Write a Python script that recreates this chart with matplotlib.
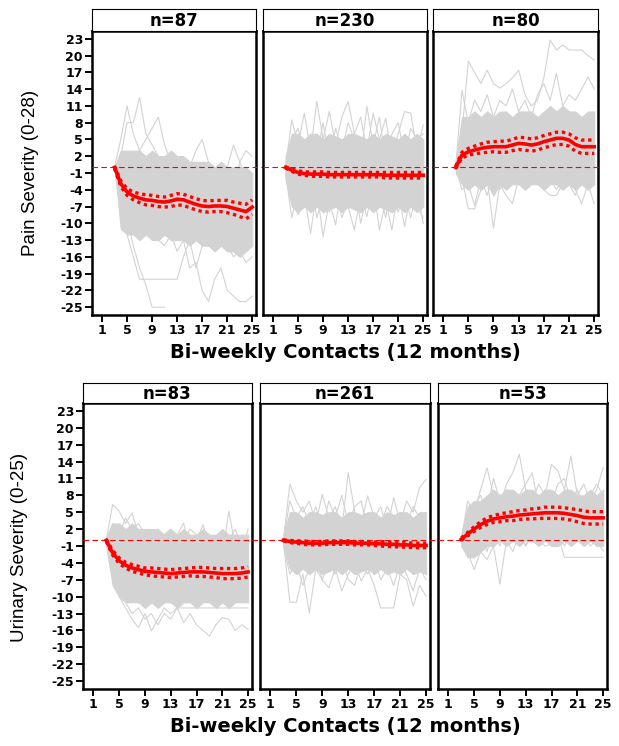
import numpy as np
import matplotlib.pyplot as plt

# bi-weekly contact number (data start at contact 3)
contacts = list(range(3, 26))
xticks = [1, 5, 9, 13, 17, 21, 25]
yticks = list(range(-25, 24, 3))

n_labels = [["n=87", "n=230", "n=80"], ["n=83", "n=261", "n=53"]]
row_ylabels = ["Pain Severity (0-28)", "Urinary Severity (0-25)"]
xlabel = "Bi-weekly Contacts (12 months)"

nan = np.nan

# --- pain, n=87 ---
p1_lo = [0, -11, -12, -12, -13, -12, -13, -13, -12, -13, -13, -13, -14, -13, -14, -14, -15, -14, -15, -15, -16, -15, -14]
p1_hi = [0, 3, 3, 3, 3, 2, 3, 2, 2, 3, 2, 2, 1, 1, 1, 1, 0, 1, 0, 0, 0, 0, -1]
p1_lines = [
    [0, 2, 8, 8, 12.5, 6, 4, 2, 0, -2, -1, 0, -3, -5, -4, -6, -8, -5, -7, -6, -8, -9, -7],
    [0, 5, 11, 6, 3, 0, -2, -1, 1, -3, -5, -2, 0, 3, 5, 1, -1, -2, 0, 4, 1, -2, -3],
    [0, -3, -2, 1, 3, 5, 7, 9, 4, 1, -1, 2, 0, -3, -1, -4, -2, -6, -3, -5, 1, 3, 2],
    [0, -5, -9, -14, -18, -21, -25, -25, -25, nan, nan, nan, nan, nan, nan, nan, nan, nan, nan, nan, nan, nan, nan],
    [0, -6, -12, -16, -20, -20, -20, -20, -20, -20, -20, -16, -13, -18, -14, -12, -15, -13, -14, -16, -15, -17, -16],
    [0, -4, -8, -10, -9, -12, -11, -13, -14, -12, -15, -13, -18, -17, -22, -24, -20, -18, -22, -23, -24, -24, -23],
]
p1_mean = [0, -2.9, -4.4, -5.1, -5.5, -5.8, -5.9, -6.1, -6.2, -6.0, -5.7, -5.8, -6.2, -6.6, -6.9, -7.0, -6.9, -6.9, -7.0, -7.3, -7.6, -7.9, -7.1]
p1_ci = [0.2, 0.5, 0.6, 0.7, 0.8, 0.9, 0.9, 0.9, 0.9, 1.0, 1.0, 1.0, 1.0, 1.0, 1.0, 1.0, 1.0, 1.0, 1.1, 1.1, 1.2, 1.3, 1.3]

# --- pain, n=230 ---
p2_lo = [-2, -7, -8, -7, -8, -7, -8, -7.5, -7, -8, -7, -7.5, -8, -7, -8, -7, -7.5, -8, -7, -8, -7, -8, -7]
p2_hi = [2, 6, 6, 5, 6, 6, 5, 6, 5.5, 5, 6, 6, 5.5, 5, 6, 5, 6, 5.5, 5, 6, 5, 6, 5]
p2_lines = [
    [0, 8.5, 4, 9.7, 3, 11.8, 5, 10, 4, 9, 11.8, 6, 9, 3, 9.7, 5, 8.8, 2, 6, 10, 9.7, 3, 7.6],
    [0, 5, 7, 3, 6, 2, 8, 1, 7, 3, 8, 5, 2, 10.9, 4, 9, 1, 6, 8, 2, 7, 5, 6],
    [0, -6, -8.5, -5, -11.8, -4, -12.4, -6, -10.3, -3, -7, -11.2, -5, -8.8, -3, -11.2, -6, -11.2, -4, -10.6, -5, -7, -9],
    [-1, -9, -4, -7, -3, -9, -5, -8, -4, -9, -6, -3, -10, -5, -7, -4, -9, -3, -8, -5, -9, -4, -10],
]
p2_mean = [0, -0.5, -0.9, -1.1, -1.2, -1.2, -1.2, -1.3, -1.3, -1.3, -1.3, -1.3, -1.3, -1.3, -1.3, -1.3, -1.4, -1.4, -1.4, -1.4, -1.4, -1.4, -1.4]
p2_ci = [0.1, 0.2, 0.3, 0.3, 0.4, 0.4, 0.4, 0.4, 0.4, 0.4, 0.4, 0.4, 0.4, 0.4, 0.4, 0.4, 0.5, 0.5, 0.5, 0.5, 0.5, 0.5, 0.5]

# --- pain, n=80 ---
p3_lo = [-1, -3, -4, -3, -4, -3, -5, -3, -4, -3, -3, -4, -3, -3, -4, -3, -3, -4, -3, -4, -3, -4, -3]
p3_hi = [1, 9, 9, 10, 9, 10, 9, 10, 10, 9, 10, 10, 10, 9, 10, 11, 10, 11, 10, 10, 9, 10, 10]
p3_lines = [
    [0, 6, 19, 17, 15, 17.4, 15, 14.2, 15, 16, 17.4, 13, 11, 12, 16, 22.8, 21, 21.9, 21, 21, 21, 20, 19.2],
    [0, 13.8, 8, 12, 10, 13, 9, 12, 11, 14, 10, 12, 9, 13, 15, 12, 16.8, 11, 13, 12, 14, 16.2, 14],
    [0, -2, -7.4, -7.4, -4, -2, -10.9, -3, -5, -6.5, -2, -1, -3, -2, -4, -5, -5, -3, -1, -4, -6.5, -3, -6.5],
    [0, -4, -3, -6.8, -2, -5, -1, -4, -2, -3, -1, -2, 0, -3, -1, -2, -4, -2, -3, -5, -2, -4, -3],
]
p3_mean = [0, 2.2, 2.8, 3.1, 3.4, 3.6, 3.7, 3.7, 3.7, 4.0, 4.3, 4.2, 4.0, 4.2, 4.6, 4.9, 5.2, 5.2, 4.9, 4.1, 3.7, 3.7, 3.7]
p3_ci = [0.2, 0.5, 0.6, 0.7, 0.8, 0.9, 0.9, 1.0, 1.0, 1.0, 1.1, 1.1, 1.1, 1.1, 1.1, 1.1, 1.1, 1.1, 1.1, 1.2, 1.2, 1.2, 1.2]

# --- urinary, n=83 ---
p4_lo = [-1, -8, -10, -11, -11, -11, -12, -11, -12, -11, -11, -12, -11, -11, -12, -11, -11, -12, -11, -12, -11, -11, -11]
p4_hi = [0.5, 3, 3, 2, 3, 2, 2, 2, 2, 1, 2, 1, 2, 1, 1, 2, 1, 1, 2, 1, 1, 1, 1]
p4_lines = [
    [0, 6.4, 5.2, 3, 4.9, 1, 0, -1, 2, -2, -1, 1, 3.1, -2, 0, 2.8, -1, 0, -3, 5.2, -1, -2, 2],
    [0, 3, 1, 4, 2, 3, 1, -2, 0, 1, 2, -1, 0, 2, 1, -2, 0, -1, 1, 0, 2, -1, 0],
    [0, -6, -10, -12, -14, -15.5, -13, -16.1, -14, -12, -13, -12, -12, -12, -12, -12, -12, -12, -12, -12, -12, -12, -12],
    [0, -4, -8, -11, -13, -12, -14, -13, -15, -13, -14, -12, -14.6, -13, -15, -16, -17, -15, -13.7, -14, -16, -15, -15.8],
]
p4_mean = [0, -2.2, -3.6, -4.4, -4.9, -5.2, -5.5, -5.6, -5.7, -5.8, -5.9, -5.8, -5.7, -5.6, -5.6, -5.6, -5.7, -5.8, -5.9, -5.9, -5.9, -5.8, -5.6]
p4_ci = [0.2, 0.4, 0.5, 0.5, 0.6, 0.6, 0.6, 0.7, 0.7, 0.7, 0.7, 0.7, 0.7, 0.7, 0.8, 0.8, 0.8, 0.8, 0.9, 0.9, 0.9, 0.9, 0.9]

# --- urinary, n=261 ---
p5_lo = [-1, -5, -6, -5, -6, -5, -6, -5.5, -5, -6, -5, -6, -5.5, -5, -6, -5, -6, -5.5, -6, -5, -6, -5.5, -6]
p5_hi = [1, 5, 5, 4, 5, 5, 4.5, 5, 5, 4, 5, 5, 4.5, 5, 5, 4, 5, 4.5, 5, 5, 4, 5, 5]
p5_lines = [
    [0, 10, 7, 5, 7, 3, 8.2, 4, 6, 2, 12, 5, 3, 7.9, 4, 6, 2, 7.6, 3, 7, 5, 9.4, 10.8],
    [0, 7, 4, 6, 3, 6, 2, 7, 4, 8, 3, 6, 7, 2, 5, 3, 6, 4, 5, 3, 6, 4, 5],
    [0, -11, -11, -6, -12.9, -5, -7, -8.4, -5, -9, -6, -4, -7.2, -5, -8, -12, -12, -12, -6, -7, -11.7, -8, -9.9],
    [-1, -6, -4, -8, -5, -3, -7, -4, -6, -3, -7, -8, -4, -6, -3, -7, -5, -8, -4, -6, -9, -5, -7],
]
p5_mean = [0, -0.2, -0.3, -0.4, -0.5, -0.5, -0.5, -0.4, -0.4, -0.4, -0.4, -0.5, -0.5, -0.5, -0.6, -0.6, -0.7, -0.7, -0.8, -0.8, -0.9, -0.9, -0.9]
p5_ci = [0.1, 0.2, 0.2, 0.3, 0.3, 0.3, 0.3, 0.3, 0.3, 0.3, 0.3, 0.3, 0.3, 0.3, 0.3, 0.4, 0.4, 0.4, 0.4, 0.4, 0.4, 0.4, 0.4]

# --- urinary, n=53 ---
p6_lo = [-1, -3, -3, -2, -1, -1, 0, -1, 0, -1, 0, 0, -1, 0, -1, -1, 0, -1, 0, -1, 0, -1, -1]
p6_hi = [1, 6, 7, 7, 8, 9, 8, 9, 9, 8, 9, 9, 8, 9, 9, 8, 9, 9, 8, 8, 9, 8, 9]
p6_lines = [
    [0, 7, 5, 9, 12.9, 8, 6, 10, 12, 15.3, 9, 7, 10, 8, 13.5, 12.3, 9, 15, 8, 10, 7, 9, 12.9],
    [0, 4, 6, 8, 5, 11, 7, 9, 6, 8, 10, 12, 6, 9, 7, 10, 11, 7, 9, 6, 8, 10, 8],
    [0, -2, -5.2, -2, -3.4, -1, -7.8, 0, -2, 1, -1, 2, 0, -1, -0.7, 1, -3, -3, -3, -3, -3, -3, -3],
    [0, -1, -3, 1, -2, 2, -1, 3, 0, 2, -1, 1, 3, 0, 2, 1, -1, 2, 0, 1, -1, 0, -1.9],
]
p6_mean = [0.2, 1.1, 2.0, 2.8, 3.4, 3.8, 4.0, 4.2, 4.3, 4.5, 4.6, 4.7, 4.8, 4.9, 4.9, 4.9, 4.8, 4.6, 4.4, 4.1, 4.0, 4.0, 4.0]
p6_ci = [0.2, 0.3, 0.4, 0.5, 0.6, 0.6, 0.7, 0.7, 0.8, 0.8, 0.8, 0.9, 0.9, 1.0, 1.0, 1.0, 1.0, 1.0, 1.1, 1.1, 1.1, 1.1, 1.1]

panels = [
    [(p1_lo, p1_hi, p1_lines, p1_mean, p1_ci),
     (p2_lo, p2_hi, p2_lines, p2_mean, p2_ci),
     (p3_lo, p3_hi, p3_lines, p3_mean, p3_ci)],
    [(p4_lo, p4_hi, p4_lines, p4_mean, p4_ci),
     (p5_lo, p5_hi, p5_lines, p5_mean, p5_ci),
     (p6_lo, p6_hi, p6_lines, p6_mean, p6_ci)],
]

GRAY = "#d3d3d3"
W, H = 619, 746

# pixel layout of the two rows
col_x = [[(92, 256), (263, 427), (433, 598)], [(83, 252), (260, 430), (438, 607)]]
strip_y = [(9, 31), (383, 403)]
plot_y = [(31, 315), (403, 689)]
ylab_pos = [(31, 173), (20, 547)]
xlab_y = [353, 727]


def box(x0, y0, x1, y1):
    return [x0 / W, 1 - y1 / H, (x1 - x0) / W, (y1 - y0) / H]


fig = plt.figure(figsize=(W / 100, H / 100), dpi=100)

for r in range(2):
    for c in range(3):
        x0, x1 = col_x[r][c]
        lo, hi, lines, mean, ci = panels[r][c]
        mean = np.array(mean)
        ci = np.array(ci)

        ax = fig.add_axes(box(x0, plot_y[r][0], x1, plot_y[r][1]))
        ax.fill_between(contacts, lo, hi, color=GRAY, lw=0.8)
        for ln in lines:
            ax.plot(contacts, ln, color=GRAY, lw=0.8)
        ax.axhline(0, xmin=0, xmax=1.04 if c < 2 else 1.0, color="red", lw=0.8,
                   ls=(0, (5, 3)), clip_on=False, zorder=3)
        ax.plot(contacts, mean + ci, color="red", lw=2.4, ls=(0, (1.0, 1.1)), zorder=4)
        ax.plot(contacts, mean - ci, color="red", lw=2.4, ls=(0, (1.0, 1.1)), zorder=4)
        ax.plot(contacts, mean, color="red", lw=2.6, zorder=5)

        ax.set_xlim(-0.6, 25.6)
        ax.set_ylim(-26.4, 24.4)
        ax.set_xticks(xticks)
        ax.set_xticklabels([str(t) for t in xticks], fontweight="bold",
                           fontfamily="DejaVu Sans", fontsize=9)
        if c == 0:
            ax.set_yticks(yticks)
            ax.set_yticklabels([str(t) for t in yticks], fontweight="bold",
                               fontfamily="DejaVu Sans", fontsize=9)
        else:
            ax.set_yticks([])
        ax.tick_params(axis="both", direction="out", length=5, width=1.4, pad=1.5,
                       color="black")
        for sp in ax.spines.values():
            sp.set_linewidth(1.8)

        sx = fig.add_axes(box(x0, strip_y[r][0], x1, strip_y[r][1]))
        sx.set_xticks([])
        sx.set_yticks([])
        for sp in sx.spines.values():
            sp.set_linewidth(0.8)
        sx.text(0.5, 0.45, n_labels[r][c], ha="center", va="center",
                fontsize=12, fontweight="bold", fontfamily="DejaVu Sans",
                transform=sx.transAxes)

    fig.text(ylab_pos[r][0] / W, 1 - ylab_pos[r][1] / H, row_ylabels[r],
             rotation=90, ha="center", va="center", fontsize=13.5,
             fontfamily="Liberation Sans")
    fig.text(345 / W, 1 - xlab_y[r] / H, xlabel, ha="center", va="center",
             fontsize=14, fontweight="bold", fontfamily="DejaVu Sans")

fig.savefig("out.png", dpi=100)
